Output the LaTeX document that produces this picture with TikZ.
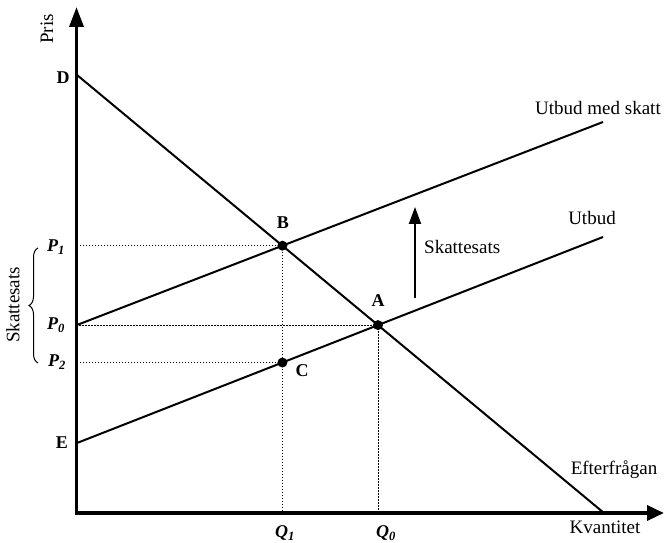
\documentclass[tikz,border=0pt]{standalone}
\usepackage{fontspec}
\setmainfont{Liberation Serif}
\usetikzlibrary{arrows.meta,decorations.pathreplacing}
\begin{document}
\begin{tikzpicture}[x=1pt,y=1pt,
  font=\fontsize{19}{22}\selectfont,
  axisline/.style={line width=3.5pt, line join=miter},
  curve/.style={line width=2pt},
  guide/.style={line width=0.8pt, dash pattern=on 1.5pt off 1.5pt},
  dot/.style={circle, fill=black, inner sep=0pt, minimum size=10pt},
  lbl/.style={font=\fontsize{18}{21}\selectfont\bfseries, inner sep=0pt},
  plbl/.style={font=\fontsize{18}{21}\selectfont\bfseries\itshape, inner sep=0pt},
  txt/.style={inner sep=0pt}]
\useasboundingbox (0,0) rectangle (665,543);
% key coordinates
\coordinate (O) at (76.5,30);
\coordinate (Ytip) at (76.5,536);
\coordinate (Xtip) at (664,30);
\coordinate (Dp) at (77,468);
\coordinate (Dend) at (604,30);
\coordinate (Ep) at (77,100);
\coordinate (Send) at (603,306);
\coordinate (P0p) at (77,218);
\coordinate (Tend) at (603,421);
\coordinate (A) at (intersection of Dp--Dend and Ep--Send);
\coordinate (B) at (intersection of Dp--Dend and P0p--Tend);
\coordinate (Bfoot) at (B |- O);
\coordinate (C) at (intersection of B--Bfoot and Ep--Send);
% guides
\draw[guide] (B) -- (B -| O);
\draw[guide] (B) -- (Bfoot);
\draw[guide] (A) -- (A -| O);
\draw[guide] (A) -- (A |- O);
\draw[guide] (C) -- (C -| O);
% curves
\draw[curve] (Dp) -- (Dend);
\draw[curve] (Ep) -- (Send);
\draw[curve] (P0p) -- (Tend);
% axes
\draw[axisline, -{Triangle[length=20pt,width=14pt]}] (76.5,28.25) -- (Ytip);
\draw[axisline, -{Triangle[length=17pt,width=15pt]}] (74.75,30) -- (Xtip);
% dots
\node[dot] (Adot) at (A) {};
\node[dot] (Bdot) at (B) {};
\node[dot] (Cdot) at (C) {};
% point labels
\node[lbl] (Alab) at (378,242) {A};
\node[lbl] (Blab) at (283,320) {B};
\node[lbl] (Clab) at (302,172) {C};
\node[lbl] (Dlab) at (63,465) {D};
\node[lbl] (Elab) at (62,100) {E};
\node[plbl] (P1lab) at (56,296) {P\textsubscript{1}};
\node[plbl] (P0lab) at (56,218) {P\textsubscript{0}};
\node[plbl] (P2lab) at (57,181) {P\textsubscript{2}};
\node[plbl] (Q1lab) at (285,10) {Q\textsubscript{1}};
\node[plbl] (Q0lab) at (386,10) {Q\textsubscript{0}};
% axis labels
\node[txt] (kv) at (605,16) {Kvantitet};
\node[txt, rotate=90] (pris) at (47,514) {Pris};
% curve labels
\node[txt] (ums) at (598,435) {Utbud med skatt};
\node[txt] (ub) at (592,325) {Utbud};
\node[txt] (ef) at (614,73) {Efterfrågan};
% tax arrow
\coordinate (tA) at (415,245);
\coordinate (tB) at (415,336);
\draw[curve, -{Triangle[length=17pt,width=12pt]}] (tA) -- (tB);
\node[txt, anchor=west] (sk) at (424,296) {Skattesats};
% brace
\coordinate (brB) at (38,180);
\coordinate (brT) at (38,295);
\draw[line width=1pt, decorate, decoration={brace, amplitude=9pt}] (brB) -- (brT);
\node[txt, rotate=90] (sk2) at (13,238) {Skattesats};
\end{tikzpicture}
\end{document}
